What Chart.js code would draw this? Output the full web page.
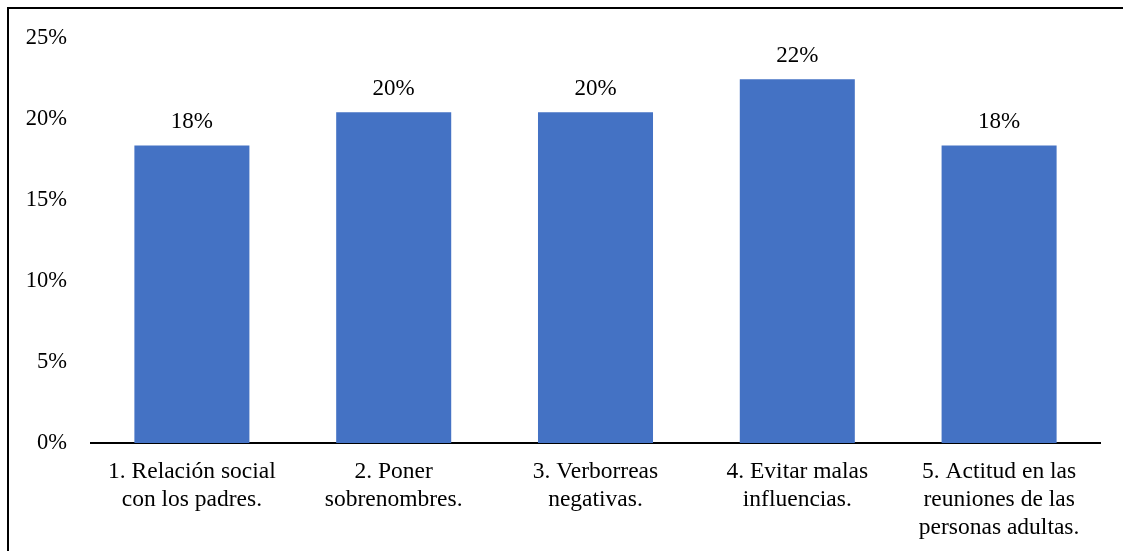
<!DOCTYPE html>
<html>
<head>
<meta charset="utf-8">
<script src="https://cdn.jsdelivr.net/npm/chart.js@4.4.0/dist/chart.umd.min.js"></script>
<style>
    html, body { margin: 0; padding: 0; background: #fff; }
    #wrap { position: relative; width: 1123px; height: 551px; }
    #frame { position: absolute; left: 7px; top: 7px; right: -10px; bottom: -10px; border-left: 2px solid #000; border-top: 2px solid #000; }
    canvas { position: absolute; left: 0; top: 0; }
</style>
</head>
<body>
<div id="wrap">
    <div id="frame"></div>
    <canvas id="myChart" width="1123" height="551"></canvas>
</div>
<script>
// categorias del grafico
const categories = [
    ['1. Relación social', 'con los padres.'],
    ['2. Poner', 'sobrenombres.'],
    ['3. Verborreas', 'negativas.'],
    ['4. Evitar malas', 'influencias.'],
    ['5. Actitud en las', 'reuniones de las', 'personas adultas.']
];
// porcentajes
const values = [18.37, 20.41, 20.41, 22.45, 18.37];
const valueLabels = ['18%', '20%', '20%', '22%', '18%'];
const yTicks = [0, 5, 10, 15, 20, 25];

const fontFamily = '"Liberation Serif", "Times New Roman", serif';

// etiquetas encima de las barras
const barLabels = {
    id: 'barLabels',
    afterDatasetsDraw(chart) {
        const ctx = chart.ctx;
        const meta = chart.getDatasetMeta(0);
        ctx.save();
        ctx.font = '23px ' + fontFamily;
        ctx.fillStyle = '#000';
        ctx.textAlign = 'center';
        ctx.textBaseline = 'middle';
        meta.data.forEach(function(bar, i) {
            ctx.fillText(valueLabels[i], bar.x, bar.y - 23);
        });
        ctx.restore();
    }
};

const ctx = document.getElementById('myChart').getContext('2d');
new Chart(ctx, {
    type: 'bar',
    data: {
        labels: categories,
        datasets: [{
            data: values,
            backgroundColor: '#4472C4',
            barPercentage: 0.57,
            categoryPercentage: 1
        }]
    },
    options: {
        responsive: false,
        animation: false,
        layout: { padding: { top: 38, right: 23, left: 0, bottom: 0 } },
        plugins: {
            legend: { display: false },
            tooltip: { enabled: false }
        },
        scales: {
            x: {
                grid: { display: false, drawTicks: false },
                border: { display: true, color: '#000', width: 2 },
                ticks: {
                    color: '#000',
                    font: { family: fontFamily, size: 23.5, lineHeight: 1.19 },
                    padding: 15,
                    maxRotation: 0,
                    autoSkip: false
                },
                afterFit: function(scale) { scale.height = 108; }
            },
            y: {
                min: 0,
                max: 25,
                afterBuildTicks: function(scale) {
                    scale.ticks = yTicks.map(function(v) { return { value: v }; });
                },
                grid: { display: false, drawTicks: false },
                border: { display: false },
                ticks: {
                    color: '#000',
                    font: { family: fontFamily, size: 22.5 },
                    padding: 24,
                    callback: function(v) { return v + '%'; }
                },
                afterFit: function(scale) { scale.width = 91; }
            }
        }
    },
    plugins: [barLabels]
});
</script>
</body>
</html>
